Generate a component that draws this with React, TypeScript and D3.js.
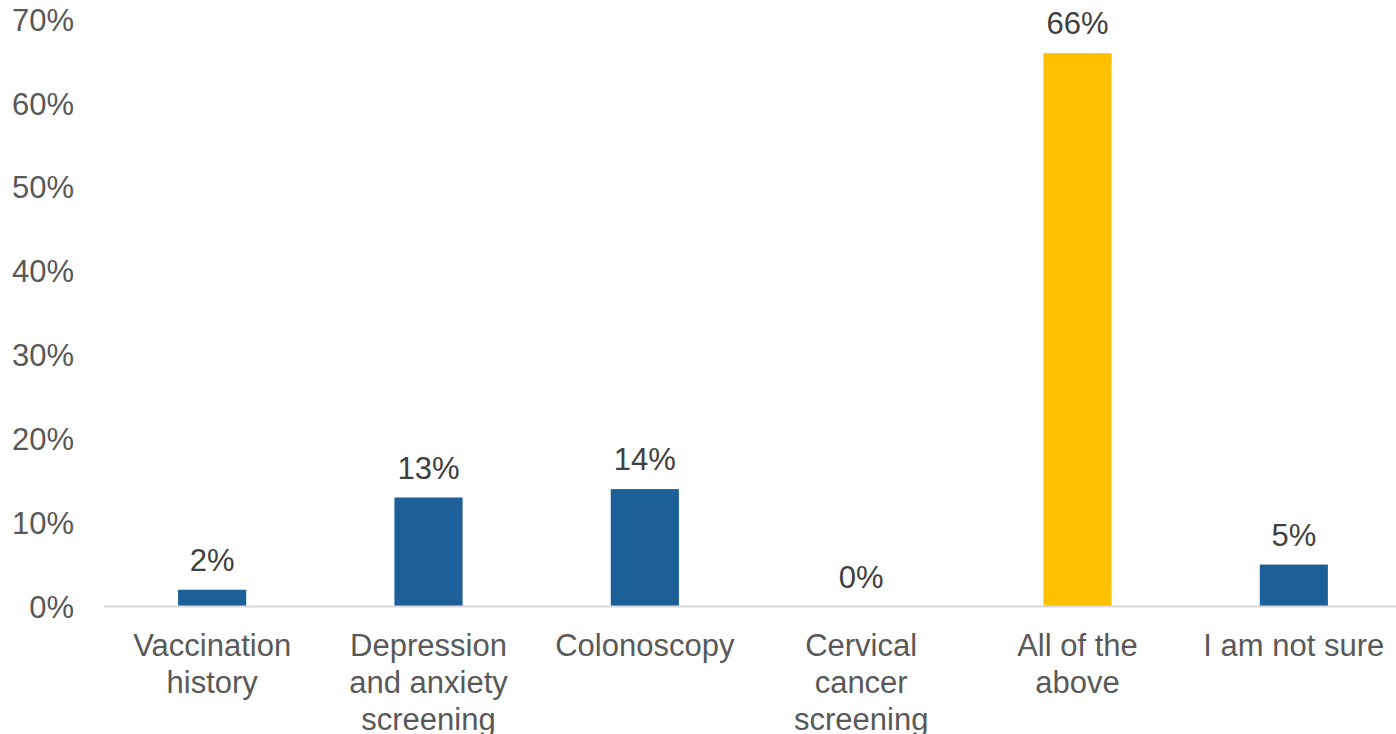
import * as d3 from "d3";

const categories = [
  ["Vaccination", "history"],
  ["Depression", "and anxiety", "screening"],
  ["Colonoscopy"],
  ["Cervical", "cancer", "screening"],
  ["All of the", "above"],
  ["I am not sure"],
];
const values = [2, 13, 14, 0, 66, 5];
const highlight = [false, false, false, false, true, false];
const yTicks = [0, 10, 20, 30, 40, 50, 60, 70];

const width = 1396;
const height = 734;
const font = "'Liberation Sans', Arial, sans-serif";

export default function App() {
  const x = d3
    .scaleBand<number>()
    .domain(values.map((_, i) => i))
    .range([104, 1402])
    .paddingInner(0.685)
    .paddingOuter(0.3425);
  const y = d3.scaleLinear().domain([0, 70]).range([606.5, 19.6]);
  const pct = (v: number) => `${v}%`;

  return (
    <svg
      width={width}
      height={height}
      viewBox={`0 0 ${width} ${height}`}
      style={{ position: "absolute", left: 0, top: 0, background: "#fff" }}
      fontFamily={font}
    >
      {yTicks.map((t) => (
        <text key={t} x={74} y={y(t)} dy="0.36em" textAnchor="end" fontSize={31} fill="#595959">
          {pct(t)}
        </text>
      ))}

      {values.map((v, i) => (
        <g key={i}>
          <rect
            x={x(i)}
            y={y(v)}
            width={x.bandwidth()}
            height={y(0) - y(v)}
            fill={highlight[i] ? "#ffc000" : "#1c5f99"}
          />
          <text
            x={(x(i) ?? 0) + x.bandwidth() / 2}
            y={y(v) - 19}
            textAnchor="middle"
            fontSize={31}
            fill="#404040"
          >
            {pct(v)}
          </text>
        </g>
      ))}

      <line x1={104} x2={1402} y1={y(0)} y2={y(0)} stroke="#d9d9d9" strokeWidth={2} />

      {categories.map((lines, i) => (
        <text
          key={i}
          x={(x(i) ?? 0) + x.bandwidth() / 2}
          y={656}
          textAnchor="middle"
          fontSize={31}
          fill="#595959"
        >
          {lines.map((l, j) => (
            <tspan key={j} x={(x(i) ?? 0) + x.bandwidth() / 2} dy={j === 0 ? 0 : 37}>
              {l}
            </tspan>
          ))}
        </text>
      ))}
    </svg>
  );
}
